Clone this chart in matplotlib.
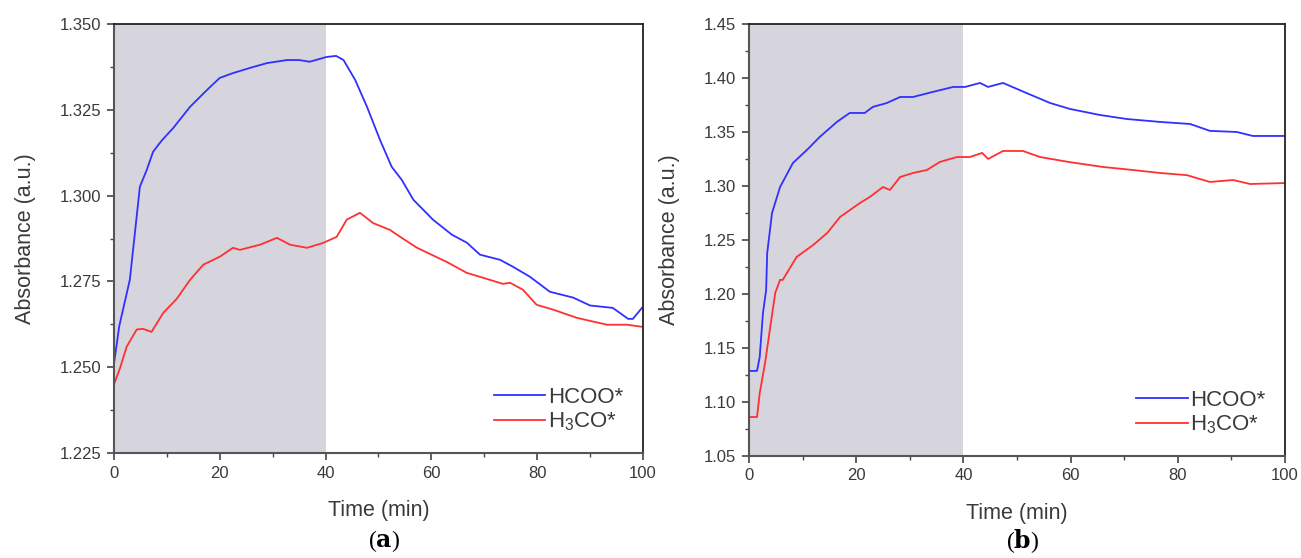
import numpy as np
import matplotlib.pyplot as plt
from matplotlib.ticker import MultipleLocator, FormatStrFormatter

# panel (a)
a_hcoo_t = [0, 1.0, 3.0, 4.9, 6.2, 7.4, 9.0, 11.2, 14.4, 17.6, 20, 22.5, 25.7, 28.9, 32.7, 35,
            37, 40.2, 42, 43.4, 45.6, 47.8, 50.3, 52.5, 54.4, 56.6, 60.3, 63.9, 66.7, 69.2, 73,
            75.4, 78.6, 82.4, 86.8, 90, 94.3, 97.2, 98.1, 99.8]
a_hcoo_v = [1.251, 1.262, 1.2755, 1.3026, 1.3075, 1.3128, 1.3160, 1.3197, 1.3259, 1.3308, 1.3343,
            1.3357, 1.3372, 1.3386, 1.3395, 1.3395, 1.3390, 1.3404, 1.3407, 1.3395, 1.3337, 1.3260,
            1.3162, 1.3084, 1.3046, 1.2988, 1.2930, 1.2886, 1.2863, 1.2828, 1.2813, 1.2793, 1.2764,
            1.2720, 1.2703, 1.2680, 1.2673, 1.2641, 1.2641, 1.2673]
a_h3co_t = [0, 1.2, 2.4, 4.3, 5.5, 7.1, 9.3, 11.9, 14.4, 16.9, 20, 22.5, 23.8, 27.6, 30.8, 33.3,
            36.5, 39.5, 42.1, 44, 46.5, 49, 52.2, 54.1, 57.3, 59.2, 62.9, 66.7, 71, 73.5, 74.9,
            77.3, 79.9, 83, 87.5, 93.2, 97, 99.8]
a_h3co_v = [1.245, 1.250, 1.256, 1.261, 1.2612, 1.2603, 1.2658, 1.2700, 1.2755, 1.2799, 1.2822,
            1.2848, 1.2842, 1.2857, 1.2877, 1.2857, 1.2848, 1.2862, 1.2880, 1.2930, 1.2950, 1.2920,
            1.2900, 1.2880, 1.2848, 1.2834, 1.2807, 1.2775, 1.2755, 1.2743, 1.2746, 1.2726, 1.2682,
            1.2668, 1.2644, 1.2624, 1.2624, 1.2618]

# panel (b)
b_hcoo_t = [0, 1.5, 2.0, 2.6, 3.2, 3.4, 4.3, 5.8, 8.2, 10.8, 13.2, 16.4, 18.8, 21.6, 23.1, 25.7,
            28.2, 30.6, 34.3, 38.1, 40.3, 43.1, 44.6, 47.4, 51.8, 56.2, 59.9, 65.5, 70.5, 76.7,
            82.3, 86, 91, 94, 100]
b_hcoo_v = [1.1287, 1.1287, 1.1416, 1.182, 1.2037, 1.238, 1.275, 1.299, 1.3213, 1.3333, 1.3454,
            1.3593, 1.3676, 1.3676, 1.3732, 1.3768, 1.3824, 1.3824, 1.3871, 1.3917, 1.3917, 1.3954,
            1.3917, 1.3954, 1.386, 1.3768, 1.3713, 1.3657, 1.362, 1.3593, 1.3574, 1.351, 1.350,
            1.3463, 1.3463]
b_h3co_t = [0, 1.5, 2.0, 3.0, 3.9, 4.9, 5.8, 6.3, 8.9, 12, 14.6, 17, 20.7, 22.6, 25, 26.3, 28.2,
            30.6, 33.2, 35.6, 38.8, 41.2, 43.5, 44.6, 47.4, 51.1, 54.3, 59.9, 66, 71.6, 76.7,
            81.7, 86, 90.3, 93.5, 100]
b_h3co_v = [1.086, 1.086, 1.108, 1.136, 1.167, 1.201, 1.213, 1.213, 1.2343, 1.2454, 1.2565, 1.2713,
            1.2842, 1.290, 1.299, 1.2963, 1.3083, 1.312, 1.3148, 1.3222, 1.3268, 1.3268, 1.3306,
            1.325, 1.3324, 1.3324, 1.3268, 1.322, 1.3176, 1.3148, 1.312, 1.310, 1.3037, 1.3055,
            1.3018, 1.3027]

labels = ['HCOO*', 'H$_3$CO*']
panel_tags = ['a', 'b']
shade_end = 40

plt.rcParams['font.family'] = ['Liberation Sans', 'DejaVu Sans']
plt.rcParams['mathtext.fontset'] = 'custom'
plt.rcParams['mathtext.rm'] = 'Liberation Sans'

fig = plt.figure(figsize=(13.01, 5.58), dpi=100)
ax_a = fig.add_axes([0.0876, 0.188, 0.4066, 0.769])
ax_b = fig.add_axes([0.5757, 0.183, 0.412, 0.774])

text_col = '#3a3a3a'


def style_axis(ax, ylim, ymajor, yfmt):
    ax.axvspan(0, shade_end, color='#d6d4dd', zorder=0, lw=0)
    ax.set_xlim(0, 100)
    ax.set_ylim(*ylim)
    ax.xaxis.set_major_locator(MultipleLocator(20))
    ax.xaxis.set_minor_locator(MultipleLocator(10))
    ax.yaxis.set_major_locator(MultipleLocator(ymajor))
    ax.yaxis.set_minor_locator(MultipleLocator(ymajor / 2))
    ax.yaxis.set_major_formatter(FormatStrFormatter(yfmt))
    ax.tick_params(which='major', direction='out', length=5, width=1.2, pad=4,
                   labelsize=12, labelcolor=text_col, color='#444444')
    ax.tick_params(which='minor', direction='out', length=3, width=1.0, color='#444444')
    for side in ['top', 'right']:
        ax.spines[side].set_color('#222222')
        ax.spines[side].set_linewidth(1.3)
    for side in ['left', 'bottom']:
        ax.spines[side].set_color('#555555')
        ax.spines[side].set_linewidth(1.5)
    ax.set_xlabel('Time (min)', fontsize=15.5, color=text_col, labelpad=14)
    ax.set_ylabel('Absorbance (a.u.)', fontsize=15.5, color=text_col, labelpad=17)


for ax, hc_t, hc_v, h3_t, h3_v, ylim, ymaj, fmt, tag in [
        (ax_a, a_hcoo_t, a_hcoo_v, a_h3co_t, a_h3co_v, (1.225, 1.350), 0.025, '%.3f', panel_tags[0]),
        (ax_b, b_hcoo_t, b_hcoo_v, b_h3co_t, b_h3co_v, (1.05, 1.45), 0.05, '%.2f', panel_tags[1])]:
    style_axis(ax, ylim, ymaj, fmt)
    ax.plot(hc_t, hc_v, color='#3030ff', lw=1.3, label=labels[0])
    ax.plot(h3_t, h3_v, color='#ff3030', lw=1.3, label=labels[1])
    leg = ax.legend(loc='lower right', frameon=False, fontsize=16, handlelength=2.3,
                    handletextpad=0.1, labelspacing=0.1, borderaxespad=0.5)
    for t in leg.get_texts():
        t.set_color(text_col)
    pos = ax.get_position()
    fig.text((pos.x0 + pos.x1) / 2 + 0.004, 0.03, '(' + r'$\mathbf{' + tag + '}$' + ')',
             ha='center', va='center', fontsize=17, family='Liberation Serif',
             math_fontfamily='dejavuserif')

fig.savefig('out.png', dpi=100)
